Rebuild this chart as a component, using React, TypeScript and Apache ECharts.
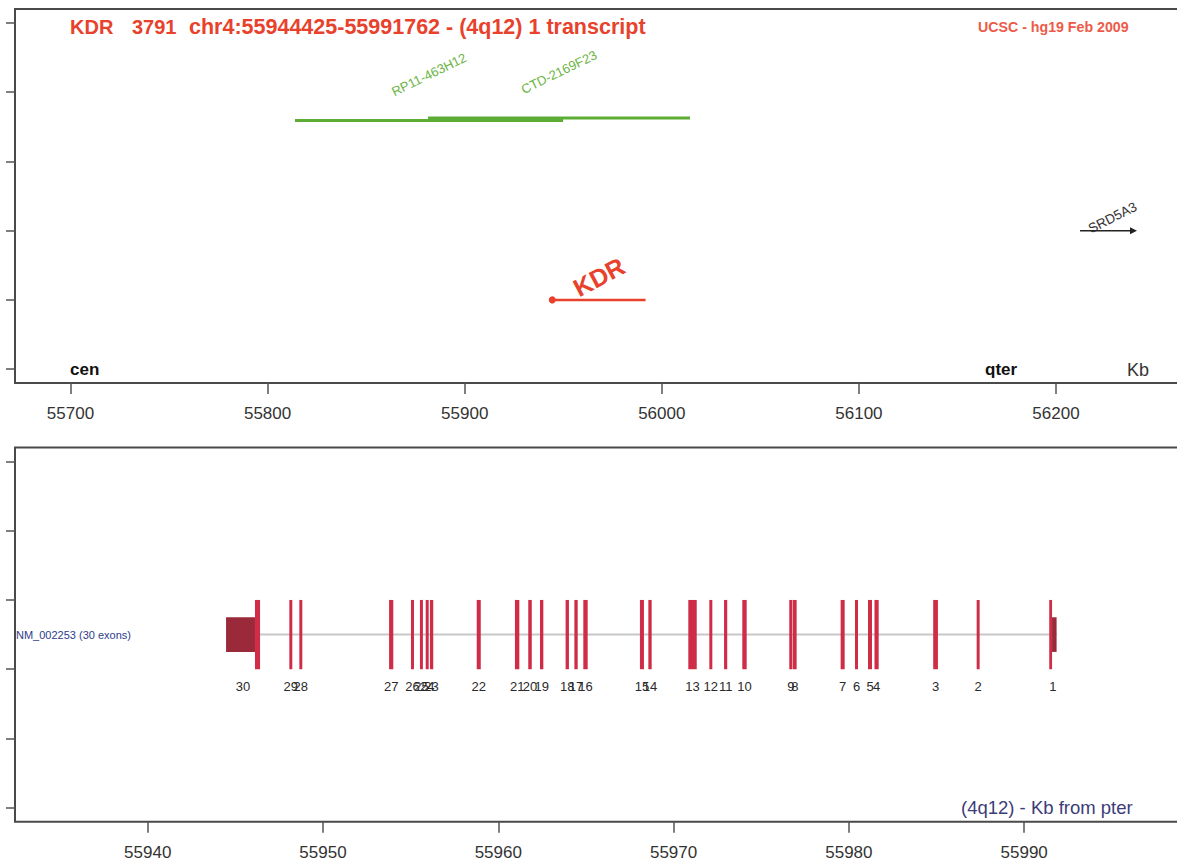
import React, { useEffect, useRef } from "react";
import * as echarts from "echarts";

const FONT = '"Liberation Sans", Arial, Helvetica, sans-serif';

// ---- Top panel: region overview (Kb) ----
const topTicks = [55700, 55800, 55900, 56000, 56100, 56200];
const rowTicks = [0, 1, 2, 3, 4, 5];

const cloneNames = ["RP11-463H12", "CTD-2169F23"];
const cloneStarts = [55813.9, 55881.4];
const cloneEnds = [55949.9, 56014.3];
const cloneRows = [3.59, 3.625];

const geneNames = ["KDR", "SRD5A3"];
const geneStarts = [55944.425, 56212.2];
const geneEnds = [55991.762, 56241.1];
const geneRows = [1, 2];

// ---- Bottom panel: transcript NM_002253 (Kb) ----
const bottomTicks = [55940, 55950, 55960, 55970, 55980, 55990];
const transcriptName = "NM_002253 (30 exons)";
const transcriptStart = 55944.47;
const transcriptEnd = 55991.85;
const transcriptRow = 2.5;

const exonNumbers = [
  30, 29, 28, 27, 26, 25, 24, 23, 22, 21, 20, 19, 18, 17, 16, 15, 14, 13, 12, 11,
  10, 9, 8, 7, 6, 5, 4, 3, 2, 1,
];
const exonStarts = [
  55946.12, 55948.08, 55948.65, 55953.77, 55955.02, 55955.53, 55955.86, 55956.1,
  55958.77, 55960.95, 55961.71, 55962.38, 55963.84, 55964.34, 55964.85, 55968.08,
  55968.56, 55970.84, 55972.04, 55972.88, 55973.92, 55976.6, 55976.81, 55979.53,
  55980.35, 55981.09, 55981.46, 55984.81, 55987.29, 55991.43,
];
const exonEnds = [
  55946.41, 55948.25, 55948.82, 55954.01, 55955.19, 55955.7, 55956.03, 55956.29,
  55959.0, 55961.2, 55961.91, 55962.57, 55964.03, 55964.53, 55965.1, 55968.31,
  55968.75, 55971.32, 55972.21, 55973.06, 55974.17, 55976.78, 55977.02, 55979.76,
  55980.52, 55981.32, 55981.7, 55985.08, 55987.46, 55991.59,
];
const utrExons = [30, 1];
const utrStarts = [55944.47, 55991.59];
const utrEnds = [55946.12, 55991.85];

const AXIS_COLOR = "#4a4a4a";
const TICK_COLOR = "#555";

function makeXAxis(gridIndex: number, min: number, max: number, ticks: number[]) {
  return {
    gridIndex,
    type: "value",
    min,
    max,
    axisLine: { show: false, onZero: false },
    axisTick: {
      show: true,
      customValues: ticks,
      length: 11,
      lineStyle: { color: TICK_COLOR, width: 1.5 },
    },
    axisLabel: {
      show: true,
      customValues: ticks,
      margin: 22,
      fontSize: 17,
      color: "#333",
      fontFamily: FONT,
      formatter: (v: number) => String(Math.round(v)),
    },
    splitLine: { show: false },
  };
}

function makeYAxis(gridIndex: number) {
  return {
    gridIndex,
    type: "value",
    min: -0.2,
    max: 5.2,
    axisLine: { show: false, onZero: false },
    axisTick: {
      show: true,
      customValues: rowTicks,
      length: 9,
      lineStyle: { color: TICK_COLOR, width: 1.5 },
    },
    axisLabel: { show: false },
    splitLine: { show: false },
  };
}

export default function App() {
  const ref = useRef<HTMLDivElement>(null);

  useEffect(() => {
    if (!ref.current) return;
    const chart = echarts.init(ref.current, undefined, { renderer: "svg" });

    const exonLabelMid = exonNumbers.map((n, i) => {
      const u = utrExons.indexOf(n);
      let s = exonStarts[i];
      let e = exonEnds[i];
      if (u >= 0) {
        s = Math.min(s, utrStarts[u]);
        e = Math.max(e, utrEnds[u]);
      }
      return (s + e) / 2;
    });

    const option: any = {
      animation: false,
      backgroundColor: "#ffffff",
      grid: [
        {
          left: 15,
          top: 9,
          width: 1202,
          height: 374,
          show: true,
          borderColor: AXIS_COLOR,
          borderWidth: 2,
          backgroundColor: "transparent",
        },
        {
          left: 15,
          top: 447.5,
          width: 1202,
          height: 374.2,
          show: true,
          borderColor: AXIS_COLOR,
          borderWidth: 2,
          backgroundColor: "transparent",
        },
      ],
      xAxis: [
        makeXAxis(0, 55671.84, 56281.68, topTicks),
        makeXAxis(1, 55932.43, 56001.0, bottomTicks),
      ],
      yAxis: [makeYAxis(0), makeYAxis(1)],
      series: [
        // clones
        {
          type: "custom",
          xAxisIndex: 0,
          yAxisIndex: 0,
          data: cloneStarts.map((s, i) => [s, cloneEnds[i], cloneRows[i]]),
          renderItem: (params: any, api: any) => {
            const i = params.dataIndex;
            const a = api.coord([api.value(0), api.value(2)]);
            const b = api.coord([api.value(1), api.value(2)]);
            return {
              type: "group",
              children: [
                {
                  type: "line",
                  shape: { x1: a[0], y1: a[1], x2: b[0], y2: b[1] },
                  style: { stroke: "#5cad35", lineWidth: 3 },
                },
                {
                  type: "text",
                  x: (a[0] + b[0]) / 2,
                  y: a[1] - 46,
                  rotation: (26 * Math.PI) / 180,
                  style: {
                    text: cloneNames[i],
                    fill: "#6cb444",
                    fontSize: 13,
                    fontFamily: FONT,
                    align: "center",
                    verticalAlign: "middle",
                  },
                },
              ],
            };
          },
        },
        // KDR gene
        {
          type: "custom",
          xAxisIndex: 0,
          yAxisIndex: 0,
          data: [[geneStarts[0], geneEnds[0], geneRows[0]]],
          renderItem: (params: any, api: any) => {
            const a = api.coord([api.value(0), api.value(2)]);
            const b = api.coord([api.value(1), api.value(2)]);
            return {
              type: "group",
              children: [
                {
                  type: "line",
                  shape: { x1: a[0], y1: a[1], x2: b[0], y2: b[1] },
                  style: { stroke: "#e8412c", lineWidth: 2.5 },
                },
                {
                  type: "circle",
                  shape: { cx: a[0], cy: a[1], r: 3.5 },
                  style: { fill: "#e8412c" },
                },
                {
                  type: "text",
                  x: (a[0] + b[0]) / 2,
                  y: a[1] - 23,
                  rotation: (28 * Math.PI) / 180,
                  style: {
                    text: geneNames[0],
                    fill: "#e8412c",
                    fontSize: 25,
                    fontWeight: "bold",
                    fontFamily: FONT,
                    align: "center",
                    verticalAlign: "middle",
                  },
                },
              ],
            };
          },
        },
        // SRD5A3 gene (arrow)
        {
          type: "custom",
          xAxisIndex: 0,
          yAxisIndex: 0,
          data: [[geneStarts[1], geneEnds[1], geneRows[1]]],
          renderItem: (params: any, api: any) => {
            const a = api.coord([api.value(0), api.value(2)]);
            const b = api.coord([api.value(1), api.value(2)]);
            return {
              type: "group",
              children: [
                {
                  type: "line",
                  shape: { x1: a[0], y1: a[1], x2: b[0] - 4, y2: b[1] },
                  style: { stroke: "#222", lineWidth: 1.5 },
                },
                {
                  type: "polygon",
                  shape: {
                    points: [
                      [b[0], b[1]],
                      [b[0] - 7, b[1] - 3.5],
                      [b[0] - 7, b[1] + 3.5],
                    ],
                  },
                  style: { fill: "#222" },
                },
                {
                  type: "text",
                  x: (a[0] + b[0]) / 2 + 4,
                  y: a[1] - 13,
                  rotation: (27 * Math.PI) / 180,
                  style: {
                    text: geneNames[1],
                    fill: "#333",
                    fontSize: 13.5,
                    fontFamily: FONT,
                    align: "center",
                    verticalAlign: "middle",
                  },
                },
              ],
            };
          },
        },
        // intron line
        {
          type: "custom",
          xAxisIndex: 1,
          yAxisIndex: 1,
          data: [[transcriptStart, transcriptEnd, transcriptRow]],
          renderItem: (params: any, api: any) => {
            const a = api.coord([api.value(0), api.value(2)]);
            const b = api.coord([api.value(1), api.value(2)]);
            return {
              type: "line",
              shape: { x1: a[0], y1: a[1], x2: b[0], y2: b[1] },
              style: { stroke: "#c8c8c8", lineWidth: 2 },
            };
          },
        },
        // UTR boxes
        {
          type: "custom",
          xAxisIndex: 1,
          yAxisIndex: 1,
          data: utrStarts.map((s, i) => [s, utrEnds[i]]),
          renderItem: (params: any, api: any) => {
            const a = api.coord([api.value(0), transcriptRow + 0.25]);
            const b = api.coord([api.value(1), transcriptRow - 0.25]);
            return {
              type: "rect",
              shape: { x: a[0], y: a[1], width: b[0] - a[0], height: b[1] - a[1] },
              style: { fill: "#9a2a3a" },
            };
          },
        },
        // coding exons
        {
          type: "custom",
          xAxisIndex: 1,
          yAxisIndex: 1,
          data: exonStarts.map((s, i) => [s, exonEnds[i]]),
          renderItem: (params: any, api: any) => {
            const a = api.coord([api.value(0), transcriptRow + 0.5]);
            const b = api.coord([api.value(1), transcriptRow - 0.5]);
            return {
              type: "rect",
              shape: { x: a[0], y: a[1], width: b[0] - a[0], height: b[1] - a[1] },
              style: { fill: "#cf2c48" },
            };
          },
        },
        // exon numbers
        {
          type: "custom",
          xAxisIndex: 1,
          yAxisIndex: 1,
          data: exonLabelMid.map((m, i) => [m, exonNumbers[i]]),
          renderItem: (params: any, api: any) => {
            const p = api.coord([api.value(0), transcriptRow - 0.75]);
            return {
              type: "text",
              x: p[0],
              y: p[1],
              style: {
                text: String(api.value(1)),
                fill: "#2a2a2a",
                fontSize: 13,
                fontFamily: FONT,
                align: "center",
                verticalAlign: "middle",
              },
            };
          },
        },
        // transcript name
        {
          type: "custom",
          xAxisIndex: 1,
          yAxisIndex: 1,
          data: [[55932.43, transcriptRow]],
          renderItem: (params: any, api: any) => {
            const p = api.coord([api.value(0), api.value(1)]);
            return {
              type: "text",
              x: p[0] + 1,
              y: p[1],
              style: {
                text: transcriptName,
                fill: "#2e3d8a",
                fontSize: 11,
                fontFamily: FONT,
                align: "left",
                verticalAlign: "middle",
              },
            };
          },
        },
      ],
      graphic: [
        {
          type: "text",
          x: 70,
          y: 27,
          style: {
            text: "KDR",
            fill: "#e8412c",
            fontSize: 20,
            fontWeight: "bold",
            fontFamily: FONT,
            verticalAlign: "middle",
          },
        },
        {
          type: "text",
          x: 132,
          y: 27,
          style: {
            text: "3791",
            fill: "#e8412c",
            fontSize: 20,
            fontWeight: "bold",
            fontFamily: FONT,
            verticalAlign: "middle",
          },
        },
        {
          type: "text",
          x: 189,
          y: 27,
          style: {
            text: "chr4:55944425-55991762 - (4q12) 1 transcript",
            fill: "#e8412c",
            fontSize: 21.5,
            fontWeight: "bold",
            fontFamily: FONT,
            verticalAlign: "middle",
          },
        },
        {
          type: "text",
          x: 978,
          y: 27,
          style: {
            text: "UCSC - hg19 Feb 2009",
            fill: "#ee5a48",
            fontSize: 14.2,
            fontWeight: "bold",
            fontFamily: FONT,
            verticalAlign: "middle",
          },
        },
        {
          type: "text",
          x: 70,
          y: 369,
          style: {
            text: "cen",
            fill: "#111",
            fontSize: 17,
            fontWeight: "bold",
            fontFamily: FONT,
            verticalAlign: "middle",
          },
        },
        {
          type: "text",
          x: 985,
          y: 369,
          style: {
            text: "qter",
            fill: "#111",
            fontSize: 17,
            fontWeight: "bold",
            fontFamily: FONT,
            verticalAlign: "middle",
          },
        },
        {
          type: "text",
          x: 1127,
          y: 370,
          style: {
            text: "Kb",
            fill: "#333",
            fontSize: 18,
            fontFamily: FONT,
            verticalAlign: "middle",
          },
        },
        {
          type: "text",
          x: 961,
          y: 807,
          style: {
            text: "(4q12) - Kb from pter",
            fill: "#3c3c78",
            fontSize: 18.5,
            fontFamily: FONT,
            verticalAlign: "middle",
          },
        },
      ],
    };

    chart.setOption(option);
    return () => {
      chart.dispose();
    };
  }, []);

  return (
    <div
      style={{
        position: "absolute",
        left: 0,
        top: 0,
        width: 1177,
        height: 863,
        overflow: "hidden",
        background: "#fff",
      }}
    >
      <div ref={ref} style={{ width: 1240, height: 863 }} />
    </div>
  );
}
